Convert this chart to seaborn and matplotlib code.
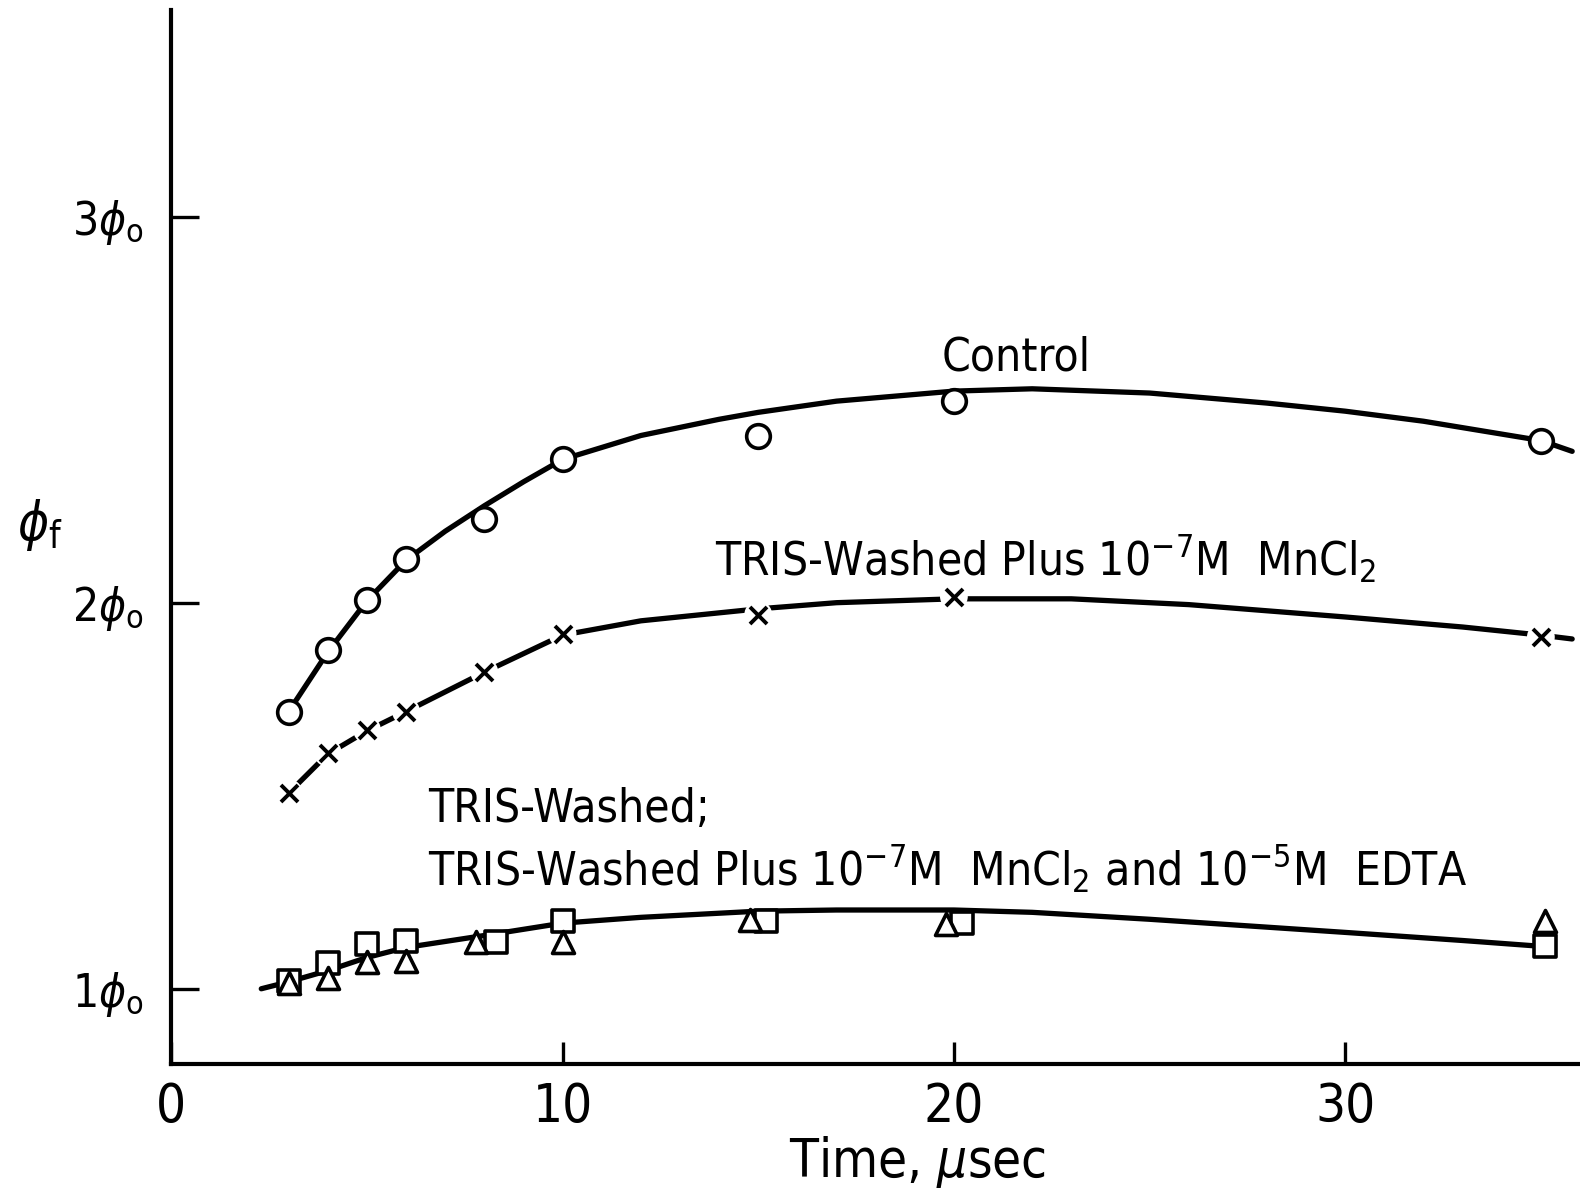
import numpy as np
import pandas as pd
import matplotlib
matplotlib.use("Agg")
import matplotlib.pyplot as plt
import seaborn as sns

# --- measured points -------------------------------------------------------
ctrl_t = [3, 4, 5, 6, 8, 10, 15, 20, 35]
ctrl_phi = [1.718, 1.877, 2.008, 2.112, 2.217, 2.371, 2.431, 2.522, 2.418]

mn_t = [3, 4, 5, 6, 8, 10, 15, 20, 35]
mn_phi = [1.507, 1.611, 1.671, 1.718, 1.820, 1.919, 1.969, 2.016, 1.911]

tris_t = [3, 4, 5, 6, 8.3, 10, 15.2, 20.2, 35.1]
tris_phi = [1.021, 1.068, 1.115, 1.125, 1.120, 1.175, 1.175, 1.170, 1.112]

edta_t = [3, 4, 5, 6, 7.8, 10, 14.8, 19.8, 35.1]
edta_phi = [1.016, 1.029, 1.070, 1.073, 1.120, 1.120, 1.178, 1.167, 1.175]

# --- hand-drawn smooth curves through the data -----------------------------
ctrl_curve_t = [3, 4, 5, 6, 7, 8, 9, 10, 12, 14, 15, 17, 20, 22, 25, 28, 30, 32, 35, 35.8]
ctrl_curve_phi = [1.718, 1.872, 2.005, 2.110, 2.185, 2.251, 2.313, 2.371, 2.433, 2.475,
                  2.493, 2.522, 2.548, 2.554, 2.543, 2.517, 2.496, 2.470, 2.420, 2.392]

mn_curve_t = [3, 4, 5, 6, 8, 10, 12, 15, 17, 20, 23, 26, 30, 33, 35, 35.8]
mn_curve_phi = [1.507, 1.608, 1.668, 1.718, 1.820, 1.916, 1.953, 1.984, 2.000, 2.010,
                2.010, 1.995, 1.963, 1.937, 1.916, 1.906]

low_curve_t = [2.3, 3, 4, 5, 6, 8, 10, 12, 15, 17, 20, 22, 25, 30, 33, 35]
low_curve_phi = [1.000, 1.018, 1.047, 1.081, 1.107, 1.138, 1.170, 1.185, 1.201, 1.204,
                 1.204, 1.198, 1.180, 1.146, 1.125, 1.110]

x_ticks = [0, 10, 20, 30]
x_ticklabels = ["0", "10", "20", "30"]
y_ticks = [1, 2, 3]
y_ticklabels = [r"1$\phi_{\rm o}$", r"2$\phi_{\rm o}$", r"3$\phi_{\rm o}$"]

# --- styling ---------------------------------------------------------------
sns.set_style("ticks")
plt.rcParams["font.family"] = ["DejaVu Sans"]
plt.rcParams["font.stretch"] = "condensed"
plt.rcParams["mathtext.fontset"] = "dejavusans"
ink = "black"
for key in ("text.color", "axes.labelcolor", "xtick.color", "ytick.color",
            "axes.edgecolor"):
    plt.rcParams[key] = ink

fig = plt.figure(figsize=(15.8, 11.96), dpi=100)
ax = fig.add_axes([0.1084, 0.110, 0.8916, 0.8816])

LW = 3.8

sns.lineplot(x=ctrl_curve_t, y=ctrl_curve_phi, ax=ax, color=ink, linewidth=LW,
             sort=False, estimator=None, zorder=2)
sns.lineplot(x=mn_curve_t, y=mn_curve_phi, ax=ax, color=ink, linewidth=LW,
             sort=False, estimator=None, zorder=2)
sns.lineplot(x=low_curve_t, y=low_curve_phi, ax=ax, color=ink, linewidth=LW,
             sort=False, estimator=None, zorder=2)

# open circles
sns.scatterplot(x=ctrl_t, y=ctrl_phi, ax=ax, marker="o", s=290, facecolor="white",
                edgecolor=ink, linewidth=2.6, zorder=4)
# crosses sit in small white gaps of the line
sns.scatterplot(x=mn_t, y=mn_phi, ax=ax, marker="o", s=400, color="white",
                edgecolor="none", linewidth=0, zorder=3)
sns.scatterplot(x=mn_t, y=mn_phi, ax=ax, marker="x", s=150, color=ink,
                linewidth=2.8, zorder=4)
# open squares and triangles
sns.scatterplot(x=tris_t, y=tris_phi, ax=ax, marker="s", s=230, facecolor="white",
                edgecolor=ink, linewidth=2.6, zorder=4)
sns.scatterplot(x=edta_t, y=edta_phi, ax=ax, marker="^", s=250, facecolor="white",
                edgecolor=ink, linewidth=2.6, zorder=5)

ax.set_xlim(0, 36)
ax.set_ylim(0.804, 3.535)

ax.set_xticks(x_ticks)
ax.set_xticklabels(x_ticklabels, fontsize=38)
ax.set_yticks(y_ticks)
ax.set_yticklabels(y_ticklabels, fontsize=33)
ax.tick_params(axis="x", direction="in", length=16, width=2.4, pad=12, colors=ink)
ax.tick_params(axis="y", direction="in", length=20, width=2.4, pad=20, colors=ink)

sns.despine(ax=ax)
for side in ("left", "bottom"):
    ax.spines[side].set_linewidth(3.0)
    ax.spines[side].set_color(ink)

ax.set_xlabel(r"Time, $\mu$sec", fontsize=38)
ax.xaxis.set_label_coords(0.53, -0.066)
ax.set_ylabel(r"$\phi_{\rm f}$", fontsize=38, rotation=0, va="center")
ax.yaxis.set_label_coords(-0.093, (2.20 - 0.804) / (3.535 - 0.804))

txt = dict(fontsize=33, color=ink, va="center")
ax.text(21.6, 2.634, "Control", ha="center", **txt)
ax.text(13.9, 2.112, r"TRIS-Washed Plus 10$^{-7}$M  MnCl$_2$", ha="left", **txt)
ax.text(6.57, 1.465, "TRIS-Washed;", ha="left", **txt)
ax.text(6.57, 1.311,
        r"TRIS-Washed Plus 10$^{-7}$M  MnCl$_2$ and 10$^{-5}$M  EDTA",
        ha="left", **txt)

fig.savefig("out.png", dpi=100)
